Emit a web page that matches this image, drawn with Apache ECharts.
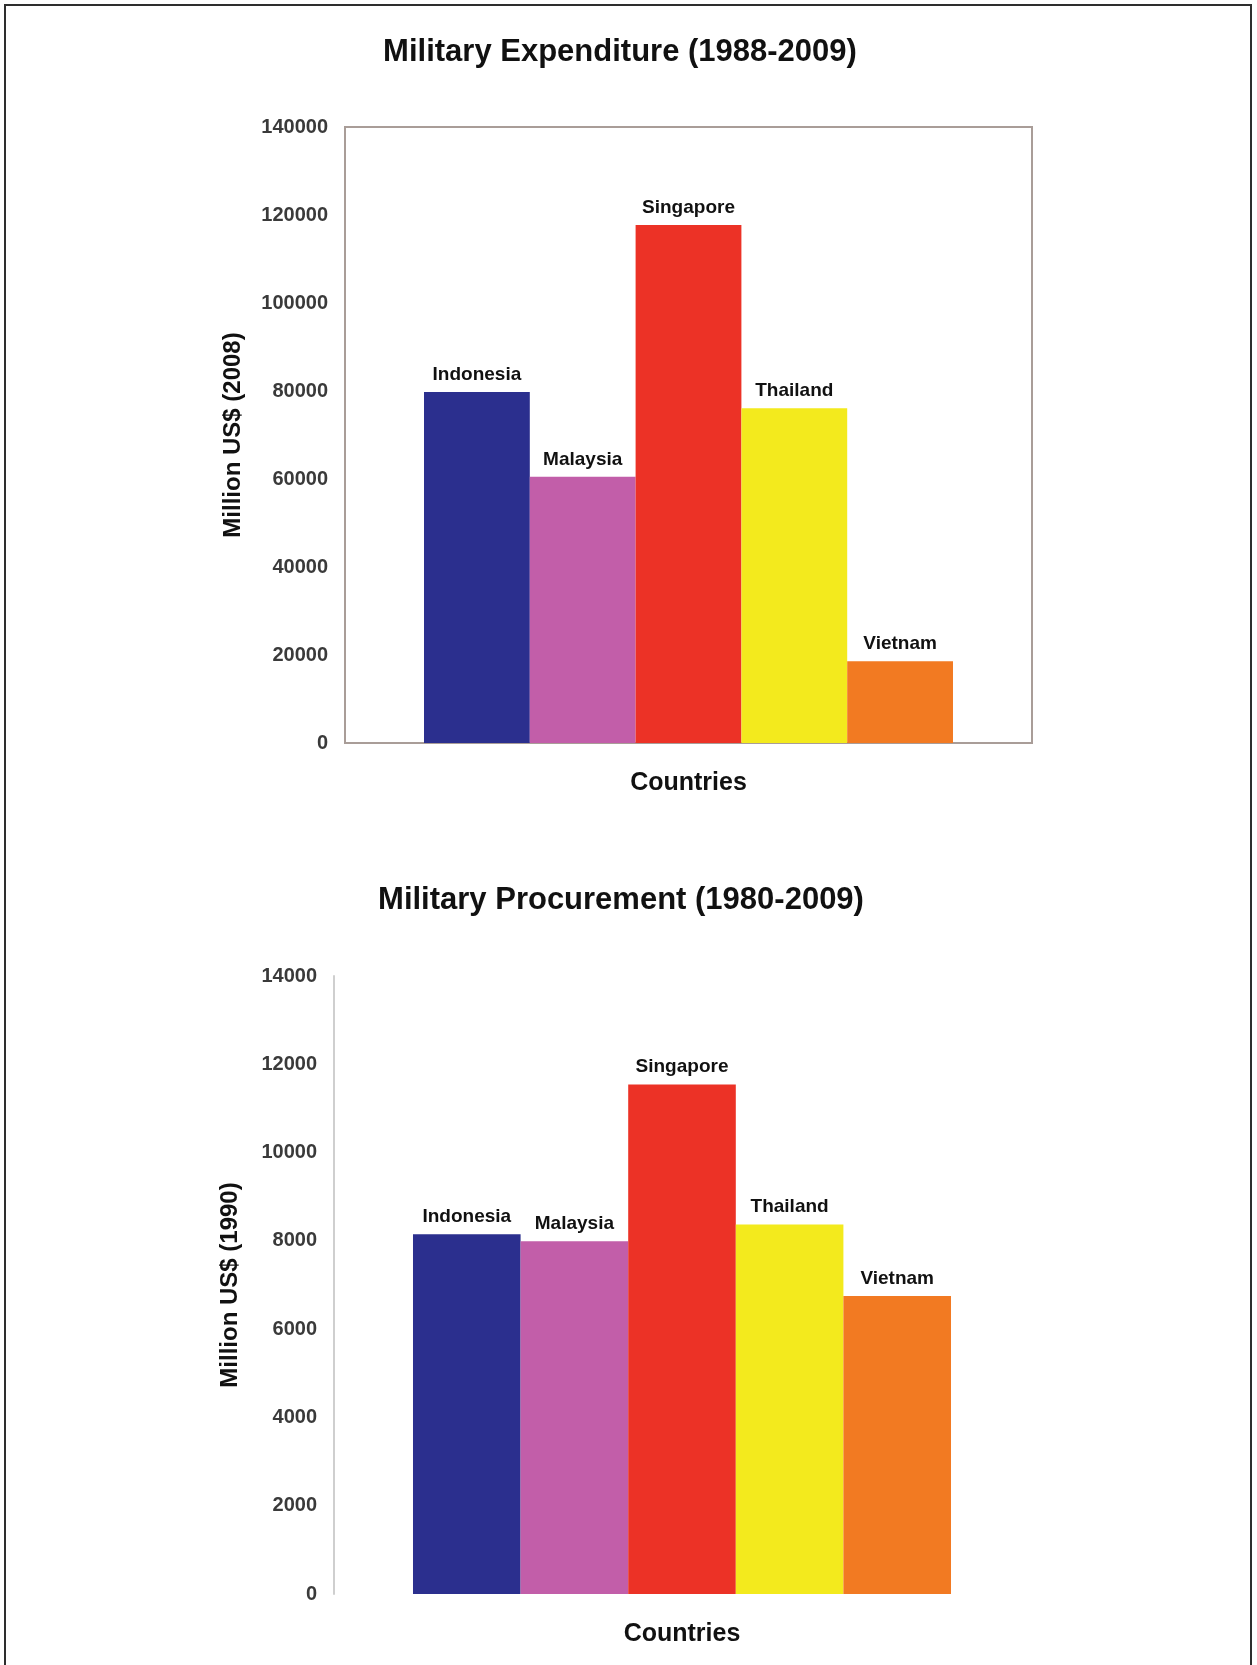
<!DOCTYPE html>
<html>
<head>
<meta charset="utf-8">
<title>Military Expenditure and Procurement</title>
<script src="https://cdn.jsdelivr.net/npm/echarts@6/dist/echarts.min.js"></script>
<style>
  html, body { margin: 0; padding: 0; background: #ffffff; }
  #chart { width: 1257px; height: 1665px; }
</style>
</head>
<body>
<div id="chart"></div>
<script>
// Countries shown in both panels, in bar order
const countries = ['Indonesia', 'Malaysia', 'Singapore', 'Thailand', 'Vietnam'];
// Military expenditure 1988-2009, million US$ (2008)
const expenditure = [79800, 60500, 117700, 76100, 18600];
// Military procurement 1980-2009, million US$ (1990)
const procurement = [8150, 7990, 11540, 8370, 6750];
// Y-axis tick ranges
const expenditureTicks = { min: 0, max: 140000, interval: 20000 };
const procurementTicks = { min: 0, max: 14000, interval: 2000 };

const barColors = ['#2b2f8e', '#c25ea9', '#ec3226', '#f3ea1d', '#f27a22'];
const FONT = '"Liberation Sans", Arial, Helvetica, sans-serif';

const chart = echarts.init(document.getElementById('chart'));

function panelSeries(values, axisIndex) {
  return countries.map((name, i) => ({
    name: name,
    type: 'bar',
    xAxisIndex: axisIndex,
    yAxisIndex: axisIndex,
    data: [values[i]],
    barGap: '0%',
    barCategoryGap: axisIndex === 0 ? '23%' : '22.7%',
    itemStyle: { color: barColors[i] },
    label: {
      show: true,
      position: 'top',
      distance: 8,
      formatter: '{a}',
      fontFamily: FONT,
      fontWeight: 'bold',
      fontSize: 19,
      color: '#111'
    },
    emphasis: { disabled: true },
    animation: false
  }));
}

function valueAxis(grid, ticks, title, gap, lineColor) {
  return {
    type: 'value',
    gridIndex: grid,
    min: ticks.min,
    max: ticks.max,
    interval: ticks.interval,
    name: title,
    nameLocation: 'middle',
    nameGap: gap,
    nameTextStyle: { fontFamily: FONT, fontWeight: 'bold', fontSize: 24, color: '#111' },
    axisLine: { show: true, lineStyle: { color: lineColor, width: 2 } },
    axisTick: { show: false },
    splitLine: { show: false },
    axisLabel: {
      margin: 17,
      formatter: v => String(v),
      fontFamily: FONT,
      fontWeight: 'bold',
      fontSize: 20,
      color: '#3a3a3a'
    }
  };
}

function categoryAxis(grid, showLine, lineColor) {
  return {
    type: 'category',
    gridIndex: grid,
    data: ['Countries'],
    name: 'Countries',
    nameLocation: 'middle',
    nameGap: 28,
    nameTextStyle: { fontFamily: FONT, fontWeight: 'bold', fontSize: 25, color: '#111' },
    axisLine: { show: showLine, lineStyle: { color: lineColor, width: 2 } },
    axisTick: { show: false },
    axisLabel: { show: false },
    splitLine: { show: false }
  };
}

chart.setOption({
  backgroundColor: '#ffffff',
  animation: false,
  grid: [
    { left: 345, top: 127, width: 687, height: 616, show: true, borderColor: '#a99d98', borderWidth: 2, backgroundColor: '#ffffff' },
    { left: 334, top: 976, width: 696, height: 618 }
  ],
  xAxis: [
    categoryAxis(0, true, '#a99d98'),
    categoryAxis(1, false, '#cccccc')
  ],
  yAxis: [
    valueAxis(0, expenditureTicks, 'Million US$ (2008)', 100, '#a99d98'),
    valueAxis(1, procurementTicks, 'Million US$ (1990)', 92, '#cfcfcf')
  ],
  series: panelSeries(expenditure, 0).concat(panelSeries(procurement, 1)),
  graphic: [
    {
      type: 'rect',
      silent: true,
      shape: { x: 5, y: 5, width: 1246, height: 1700 },
      style: { fill: 'none', stroke: '#2e2e2e', lineWidth: 2 }
    },
    {
      type: 'text',
      x: 620, y: 52,
      style: { text: 'Military Expenditure (1988-2009)', font: 'bold 31px ' + FONT, fill: '#111', align: 'center', verticalAlign: 'middle' }
    },
    {
      type: 'text',
      x: 621, y: 900,
      style: { text: 'Military Procurement (1980-2009)', font: 'bold 31px ' + FONT, fill: '#111', align: 'center', verticalAlign: 'middle' }
    }
  ]
});
</script>
</body>
</html>
